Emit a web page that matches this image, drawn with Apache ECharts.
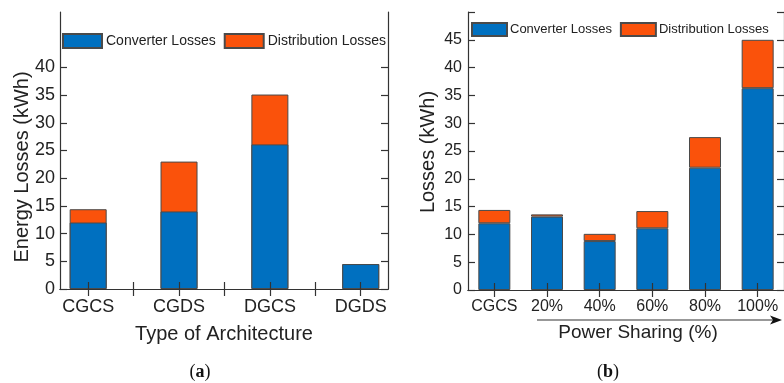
<!DOCTYPE html>
<html>
<head>
<meta charset="utf-8">
<script src="https://cdn.jsdelivr.net/npm/echarts@6/dist/echarts.min.js"></script>
<style>
  html, body { margin: 0; padding: 0; background: #fff; }
  #chart { width: 784px; height: 383px; }
</style>
</head>
<body>
<div id="chart"></div>
<script>
// (a) losses per architecture
const archCategories = ['CGCS', 'CGDS', 'DGCS', 'DGDS'];
const archConverter = [12.0, 14.0, 26.1, 4.5];
const archDistribution = [2.4, 9.0, 9.0, 0];

// (b) losses versus power sharing
const shareCategories = ['CGCS', '20%', '40%', '60%', '80%', '100%'];
const shareConverter = [12.0, 13.2, 8.8, 11.1, 22.0, 36.3];
const shareDistribution = [2.4, 0.4, 1.3, 3.1, 5.5, 8.7];

const yTicksA = [0, 5, 10, 15, 20, 25, 30, 35, 40];
const xTicksA = [1, 1.5, 2, 2.5, 3, 3.5, 4];
const xLabelsA = [1, 2, 3, 4];

const FONT = 'Liberation Sans, Arial, sans-serif';
const BLUE = '#0070C0';
const ORANGE = '#FA520B';
const EDGE = '#4a4a4a';
const AXIS = '#333';

const chart = echarts.init(document.getElementById('chart'), null, { renderer: 'canvas' });

const axisLine = { show: true, lineStyle: { color: AXIS, width: 1.2 } };
const tickIn = { show: true, inside: true, length: 7, lineStyle: { color: AXIS, width: 1.2 } };

// Panel (a) sits on a numeric x scale (category k at x = k), so the stacked look is
// built from a full-height distribution bar with the converter bar laid over it.
const archTotals = archConverter.map((v, i) => +(v + archDistribution[i]).toFixed(2));
const pairs = (vals) => vals.map((v, i) => [i + 1, v]);

chart.setOption({
  animation: false,
  textStyle: { fontFamily: FONT },
  grid: [
    { left: 60, top: 12, width: 328, height: 277 },
    { left: 468, top: 12, width: 322, height: 278 }
  ],
  legend: [
    {
      left: 62, top: 33, itemWidth: 39, itemHeight: 14, itemGap: 8, padding: 0,
      icon: 'rect',
      textStyle: { fontFamily: FONT, fontSize: 14, color: '#222', padding: [0, 0, 0, -1] },
      data: ['Converter Losses', 'Distribution Losses']
    },
    {
      left: 471, top: 22, itemWidth: 35, itemHeight: 13, itemGap: 8, padding: 0,
      icon: 'rect',
      textStyle: { fontFamily: FONT, fontSize: 13, color: '#222', padding: [0, 0, 0, -2] },
      data: ['Converter Losses', 'Distribution Losses']
    }
  ],
  xAxis: [
    {
      type: 'value', gridIndex: 0, position: 'bottom', min: 0.69, max: 4.3, z: 10,
      axisLine, splitLine: { show: false },
      axisTick: Object.assign({}, tickIn, { customValues: xTicksA }),
      axisLabel: {
        customValues: xLabelsA, margin: 9,
        fontFamily: FONT, fontSize: 18, color: '#222',
        formatter: (v) => archCategories[Math.round(v) - 1] || ''
      }
    },
    {
      type: 'value', gridIndex: 0, position: 'top', min: 0.69, max: 4.3, z: 10,
      axisLine, splitLine: { show: false },
      axisTick: Object.assign({}, tickIn, { customValues: xTicksA }),
      axisLabel: { show: false }
    },
    {
      type: 'category', gridIndex: 1, position: 'bottom', data: shareCategories, z: 10,
      axisLine,
      axisTick: Object.assign({}, tickIn, { alignWithLabel: true, interval: 0 }),
      axisLabel: { interval: 0, margin: 9, fontFamily: FONT, fontSize: 16, color: '#222' }
    },
    {
      type: 'category', gridIndex: 1, position: 'top', data: shareCategories, z: 10,
      axisLine,
      axisTick: Object.assign({}, tickIn, { alignWithLabel: true, interval: 0 }),
      axisLabel: { show: false, interval: 0 }
    }
  ],
  yAxis: [
    {
      type: 'value', gridIndex: 0, position: 'left', min: 0, max: 50, z: 10,
      axisLine, splitLine: { show: false },
      axisTick: Object.assign({}, tickIn, { customValues: yTicksA }),
      axisLabel: { customValues: yTicksA, margin: 5, fontFamily: FONT, fontSize: 18, color: '#222' }
    },
    {
      type: 'value', gridIndex: 0, position: 'right', min: 0, max: 50, z: 10,
      axisLine, splitLine: { show: false },
      axisTick: Object.assign({}, tickIn, { customValues: yTicksA }),
      axisLabel: { show: false }
    },
    {
      type: 'value', gridIndex: 1, position: 'left', min: 0, max: 50, interval: 5, z: 10,
      axisLine, splitLine: { show: false },
      axisTick: tickIn,
      axisLabel: {
        margin: 6, fontFamily: FONT, fontSize: 16, color: '#222',
        formatter: (v) => (v > 45 ? '' : String(v))
      }
    },
    {
      type: 'value', gridIndex: 1, position: 'right', min: 0, max: 50, interval: 5, z: 10,
      axisLine, splitLine: { show: false },
      axisTick: tickIn,
      axisLabel: { show: false }
    }
  ],
  series: [
    {
      name: 'Distribution Losses', type: 'bar', xAxisIndex: 0, yAxisIndex: 0,
      barWidth: 37, barGap: '-100%', data: pairs(archTotals), z: 2,
      itemStyle: { color: ORANGE, borderColor: EDGE, borderWidth: 1 }
    },
    {
      name: 'Converter Losses', type: 'bar', xAxisIndex: 0, yAxisIndex: 0,
      barWidth: 37, barGap: '-100%', data: pairs(archConverter), z: 3,
      itemStyle: { color: BLUE, borderColor: EDGE, borderWidth: 1 }
    },
    {
      name: 'Converter Losses', type: 'bar', xAxisIndex: 2, yAxisIndex: 2, stack: 'share',
      barWidth: 32, data: shareConverter,
      itemStyle: { color: BLUE, borderColor: EDGE, borderWidth: 1 }
    },
    {
      name: 'Distribution Losses', type: 'bar', xAxisIndex: 2, yAxisIndex: 2, stack: 'share',
      barWidth: 32, data: shareDistribution,
      itemStyle: { color: ORANGE, borderColor: EDGE, borderWidth: 1 }
    }
  ],
  graphic: [
    // axis titles
    {
      type: 'text', x: 22, y: 167, rotation: Math.PI / 2,
      style: { text: 'Energy Losses (kWh)', font: '20px ' + FONT, fill: '#222', align: 'center', verticalAlign: 'middle' }
    },
    {
      type: 'text', x: 428, y: 152, rotation: Math.PI / 2,
      style: { text: 'Losses (kWh)', font: '20px ' + FONT, fill: '#222', align: 'center', verticalAlign: 'middle' }
    },
    {
      type: 'text', x: 224, y: 334,
      style: { text: 'Type of Architecture', font: '20px ' + FONT, fill: '#222', align: 'center', verticalAlign: 'middle' }
    },
    {
      type: 'text', x: 638, y: 333,
      style: { text: 'Power Sharing (%)', font: '19px ' + FONT, fill: '#222', align: 'center', verticalAlign: 'middle' }
    },
    // arrow under the power-sharing categories
    {
      type: 'line', shape: { x1: 537, y1: 320, x2: 774, y2: 320 },
      style: { stroke: '#333', lineWidth: 1.2 }
    },
    {
      type: 'polygon', shape: { points: [[782, 320], [770, 315.5], [773, 320], [770, 324.5]] },
      style: { fill: '#111' }
    },
    // panel captions
    {
      type: 'text', x: 200, y: 372,
      style: {
        text: '{p|(}{b|a}{p|)}', align: 'center', verticalAlign: 'middle',
        rich: {
          p: { font: '18px Liberation Serif, serif', fill: '#111' },
          b: { font: 'bold 18px Liberation Serif, serif', fill: '#111' }
        }
      }
    },
    {
      type: 'text', x: 608, y: 372,
      style: {
        text: '{p|(}{b|b}{p|)}', align: 'center', verticalAlign: 'middle',
        rich: {
          p: { font: '18px Liberation Serif, serif', fill: '#111' },
          b: { font: 'bold 18px Liberation Serif, serif', fill: '#111' }
        }
      }
    }
  ]
});
</script>
</body>
</html>
